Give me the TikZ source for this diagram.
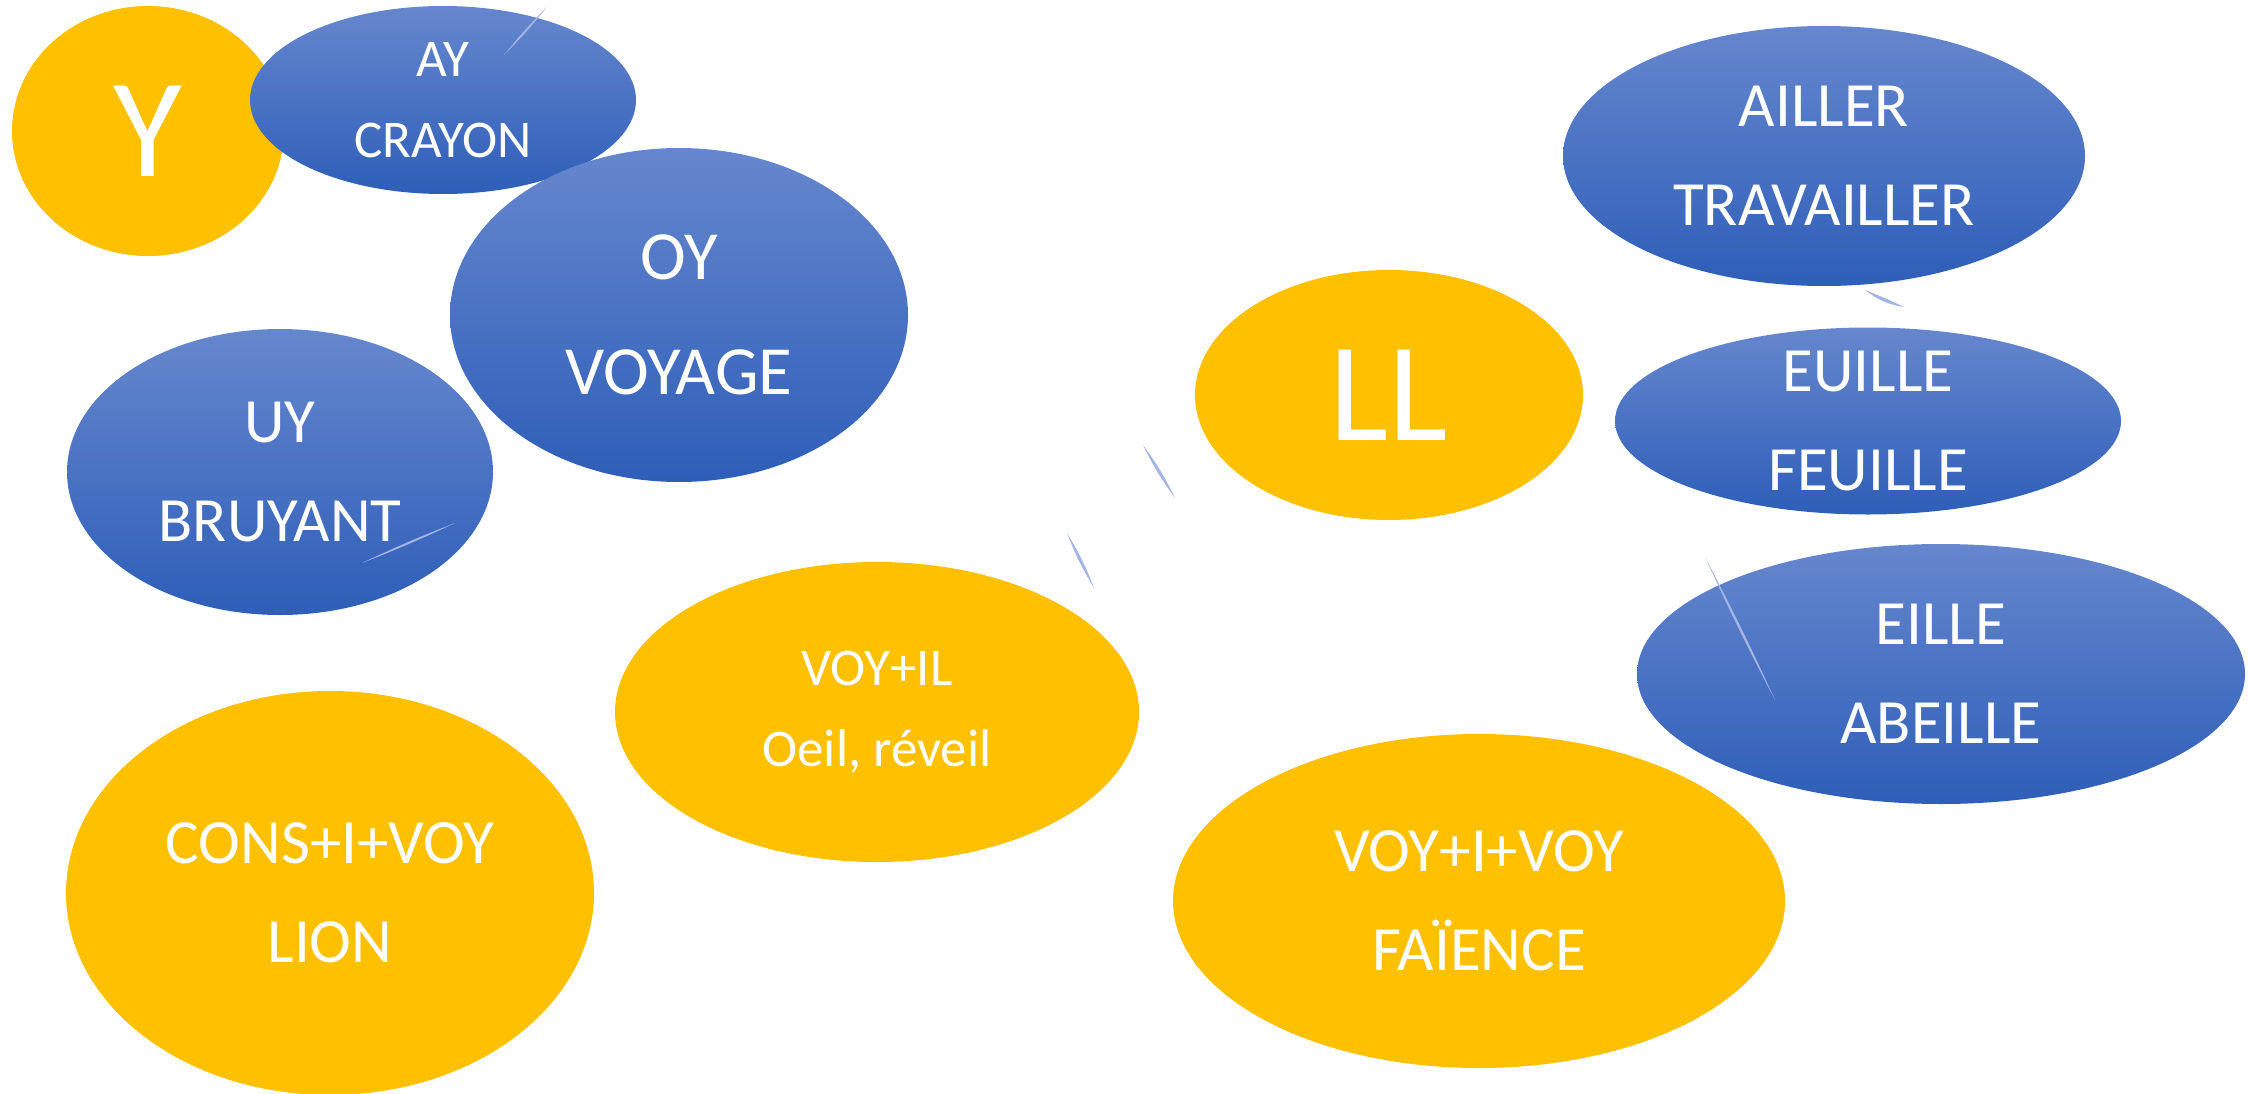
\documentclass[tikz,border=0pt]{standalone}
\usepackage{fontspec}
\setmainfont{Carlito}
\usetikzlibrary{shapes.geometric}
\definecolor{ylw}{RGB}{255,192,0}
\definecolor{bluetop}{RGB}{102,135,206}
\definecolor{bluebot}{RGB}{46,94,184}
\definecolor{conn}{RGB}{163,180,228}
\tikzset{
  yell/.style={ellipse, fill=ylw, draw=none, inner sep=0pt},
  bell/.style={ellipse, top color=bluetop, bottom color=bluebot, draw=none, inner sep=0pt},
  txt/.style={text=white, align=center, inner sep=0pt},
  big/.style={txt, font=\fontsize{141}{141}\selectfont},
  norm/.style={txt, font=\fontsize{63}{99}\selectfont},
  small/.style={txt, font=\fontsize{53}{81}\selectfont},
  large/.style={txt, font=\fontsize{69}{115}\selectfont},
  frag/.style={fill=conn, draw=none},
}
\begin{document}
\begin{tikzpicture}[x=1pt,y=1pt]
\useasboundingbox (0,0) rectangle (2248,-1094);
% ellipses
\node[yell, minimum width=272, minimum height=250] (y) at (148,-131) {};
\node[bell, minimum width=386, minimum height=188] (ay) at (443,-100) {};
\node[bell, minimum width=458, minimum height=334] (oy) at (679,-315) {};
\node[bell, minimum width=426, minimum height=286] (uy) at (280,-472) {};
\node[yell, minimum width=528, minimum height=404] (lion) at (330,-893) {};
\node[yell, minimum width=524, minimum height=300] (voyil) at (877,-712) {};
\node[yell, minimum width=388, minimum height=250] (ll) at (1389,-395) {};
\node[yell, minimum width=612, minimum height=334] (faience) at (1479,-901) {};
\node[bell, minimum width=522, minimum height=260] (ailler) at (1824,-156) {};
\node[bell, minimum width=506, minimum height=187] (euille) at (1868,-421) {};
\node[bell, minimum width=608, minimum height=260] (eille) at (1941,-674) {};
% connector fragments
\coordinate (a1) at (547,-7);   \coordinate (a2) at (504,-55);
\coordinate (b1) at (455,-523); \coordinate (b2) at (362,-563);
\coordinate (c1) at (1143,-445);\coordinate (c2) at (1175,-498);
\coordinate (d1) at (1067,-533);\coordinate (d2) at (1094,-588);
\coordinate (e1) at (1865,-290);\coordinate (e2) at (1904,-307);
\coordinate (f1) at (1705,-557);\coordinate (f2) at (1775,-700);
\fill[frag] (a1) to[bend left=3] (a2) to[bend left=3] (a1);
\fill[frag] (b1) to[bend left=2] (b2) to[bend left=2] (b1);
\fill[frag] (c1) to[bend left=5] (c2) to[bend left=5] (c1);
\fill[frag] (d1) to[bend left=5] (d2) to[bend left=5] (d1);
\fill[frag] (e1) to[bend right=14] (e2) to[bend right=2] (e1);
\fill[frag] (f1) to[bend left=1.5] (f2) to[bend left=1.5] (f1);
% texts
\node[big] (yt) at (y) {Y};
\node[small] (ayt) at (ay) {AY\\CRAYON};
\node[large] (oyt) at (oy) {OY\\VOYAGE};
\node[norm] (uyt) at (uy) {UY\\BRUYANT};
\node[norm] (liont) at (lion) {CONS+I+VOY\\LION};
\node[small] (voyilt) at (voyil) {VOY+IL\\Oeil, réveil};
\node[big] (llt) at (ll) {LL};
\node[norm] (faiencet) at (faience) {VOY+I+VOY\\FAÏENCE};
\node[norm] (aillert) at (ailler) {AILLER\\TRAVAILLER};
\node[norm] (euillet) at (euille) {EUILLE\\FEUILLE};
\node[norm] (eillet) at (eille) {EILLE\\ABEILLE};
\end{tikzpicture}
\end{document}
